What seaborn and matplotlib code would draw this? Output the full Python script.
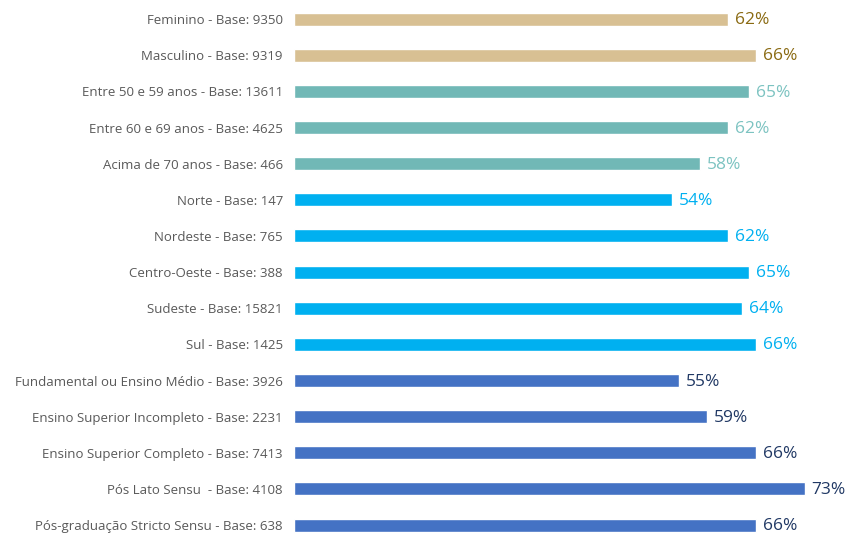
import matplotlib
matplotlib.use("Agg")
import matplotlib.pyplot as plt
import seaborn as sns
import pandas as pd

sns.set_theme(style="white")
plt.rcParams['font.family'] = ['Open Sans', 'DejaVu Sans']

### Data
labels = [
    "Feminino - Base: 9350",
    "Masculino - Base: 9319",
    "Entre 50 e 59 anos - Base: 13611",
    "Entre 60 e 69 anos - Base: 4625",
    "Acima de 70 anos - Base: 466",
    "Norte - Base: 147",
    "Nordeste - Base: 765",
    "Centro-Oeste - Base: 388",
    "Sudeste - Base: 15821",
    "Sul - Base: 1425",
    "Fundamental ou Ensino Médio - Base: 3926",
    "Ensino Superior Incompleto - Base: 2231",
    "Ensino Superior Completo - Base: 7413",
    "Pós Lato Sensu  - Base: 4108",
    "Pós-graduação Stricto Sensu - Base: 638",
]
values = [62, 66, 65, 62, 58, 54, 62, 65, 64, 66, 55, 59, 66, 73, 66]
groups = ["Sexo"] * 2 + ["Idade"] * 3 + ["Região"] * 5 + ["Escolaridade"] * 5

bar_colors = {"Sexo": "#D8C093", "Idade": "#71B8B6", "Região": "#00B0F0", "Escolaridade": "#4472C4"}
text_colors = {"Sexo": "#8A6A12", "Idade": "#7CC3C1", "Região": "#00B0F0", "Escolaridade": "#203864"}

df = pd.DataFrame({"label": labels, "value": values, "group": groups})

### Plot
fig = plt.figure(figsize=(8.5, 5.33), dpi=100)
ax = fig.add_axes([0.346, 0.0, 0.654, 1.0])

sns.barplot(data=df, x="value", y="label", hue="group", palette=bar_colors,
            dodge=False, width=0.36, saturation=1, legend=False, ax=ax)

for i, (v, g) in enumerate(zip(values, groups)):
    ax.text(v + 1.0, i + 0.03, f"{v}%", va="center", ha="left", fontsize=12.5,
            color=text_colors[g])

ax.set_xlim(0, 79.5)
ax.set_ylim(14.22, -0.53)
ax.set_xlabel("")
ax.set_ylabel("")
ax.set_xticks([])
ax.tick_params(axis="y", length=0, pad=8, labelsize=9.5, labelcolor="#595959")
sns.despine(ax=ax, left=True, bottom=True)

fig.savefig("out.png", dpi=100)
